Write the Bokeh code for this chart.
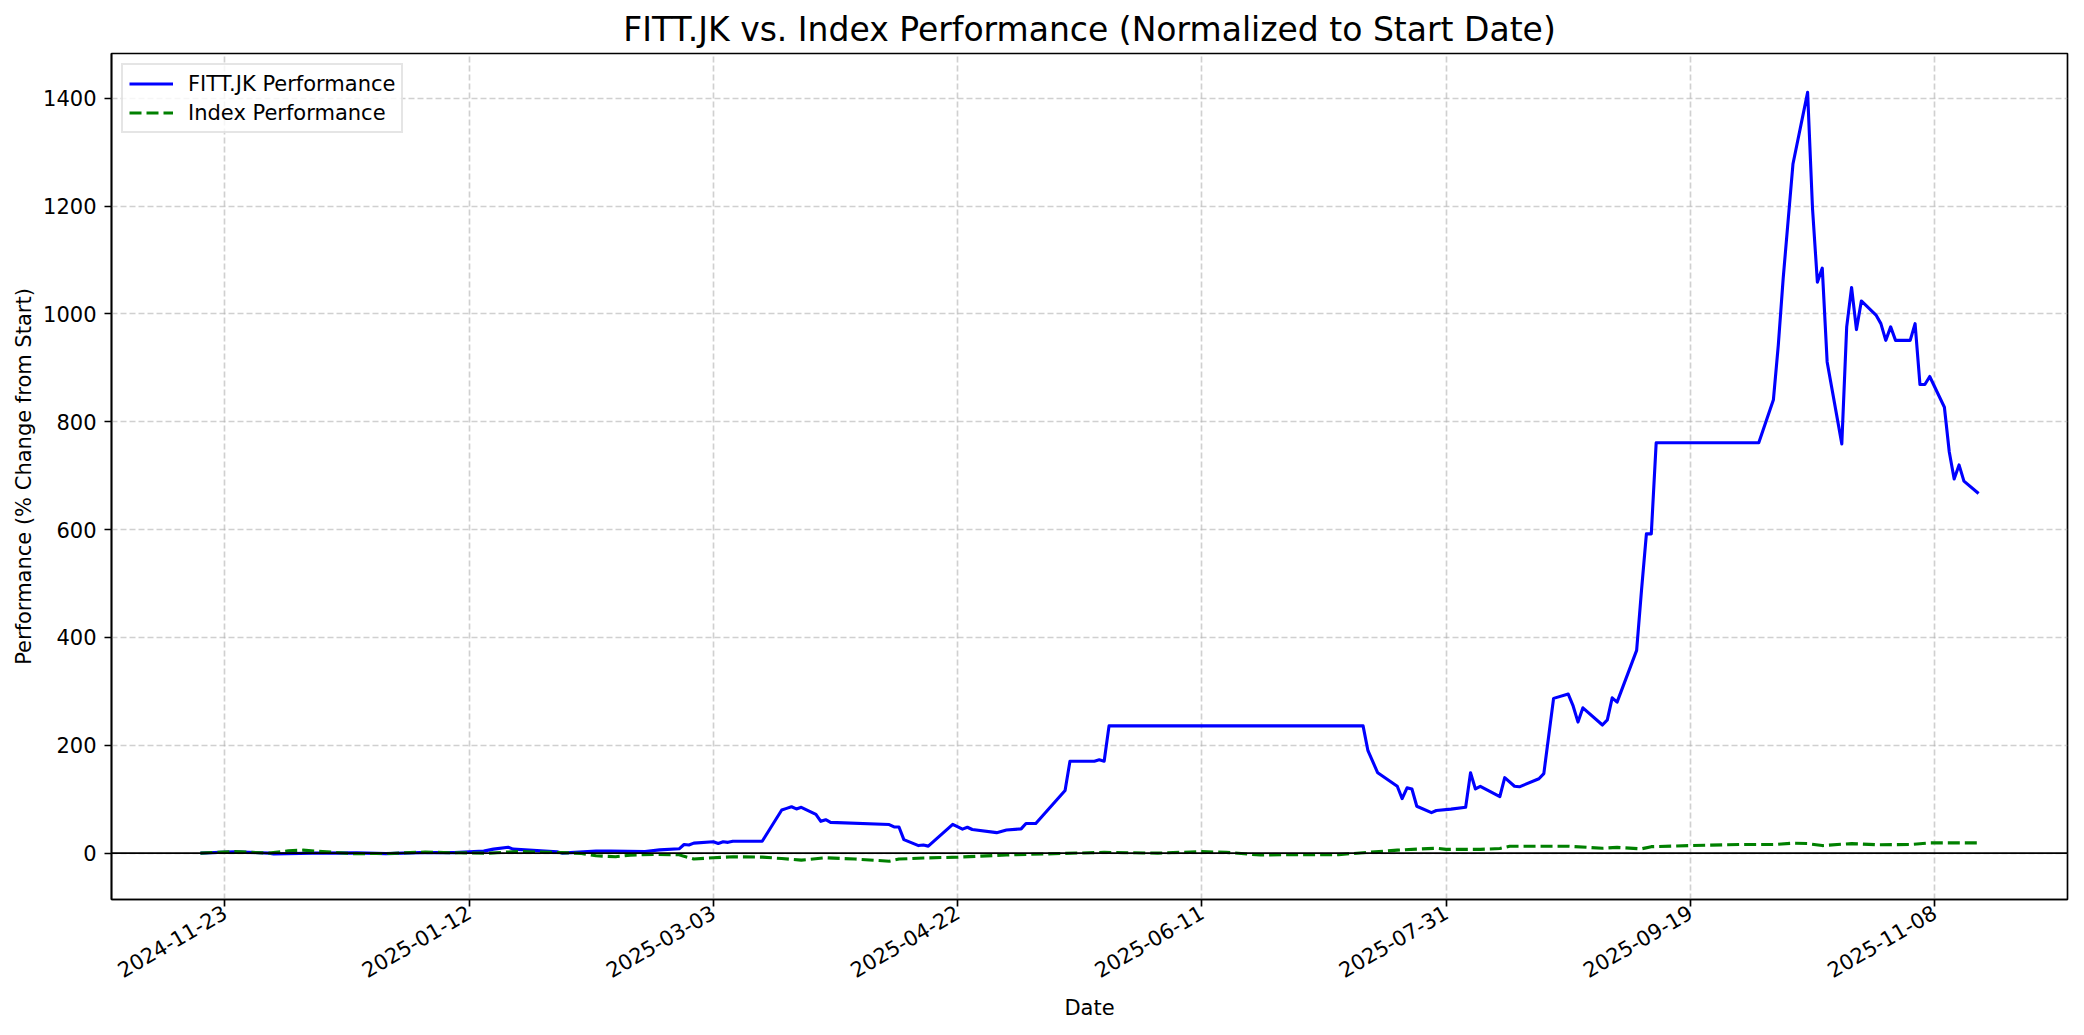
import math
import pandas as pd
from bokeh.plotting import figure
from bokeh.models import FixedTicker, DatetimeTickFormatter, Span, Range1d, ColumnDataSource
from bokeh.embed import file_html
from bokeh.resources import INLINE

# ---------------- data ----------------
fitt_dates = [
    "2024-11-18", "2024-11-25", "2024-12-02", "2024-12-03", "2024-12-11", "2024-12-20", "2024-12-26",
    "2025-01-02", "2025-01-09", "2025-01-13", "2025-01-15", "2025-01-17", "2025-01-20", "2025-01-21",
    "2025-01-30", "2025-01-31", "2025-02-07", "2025-02-10", "2025-02-17", "2025-02-20", "2025-02-24",
    "2025-02-25", "2025-02-26", "2025-02-27", "2025-03-03", "2025-03-04", "2025-03-05", "2025-03-06",
    "2025-03-07", "2025-03-13", "2025-03-17", "2025-03-18", "2025-03-19", "2025-03-20", "2025-03-21",
    "2025-03-24", "2025-03-25", "2025-03-26", "2025-03-27", "2025-04-08", "2025-04-09", "2025-04-10",
    "2025-04-11", "2025-04-14", "2025-04-15", "2025-04-16", "2025-04-21", "2025-04-23", "2025-04-24",
    "2025-04-25", "2025-04-30", "2025-05-02", "2025-05-05", "2025-05-06", "2025-05-08", "2025-05-14",
    "2025-05-15", "2025-05-20", "2025-05-21", "2025-05-22", "2025-05-23", "2025-07-14", "2025-07-15",
    "2025-07-17", "2025-07-21", "2025-07-22", "2025-07-23", "2025-07-24", "2025-07-25", "2025-07-28",
    "2025-07-29", "2025-08-01", "2025-08-04", "2025-08-05", "2025-08-06", "2025-08-07", "2025-08-11",
    "2025-08-12", "2025-08-14", "2025-08-15", "2025-08-19", "2025-08-20", "2025-08-22", "2025-08-25",
    "2025-08-26", "2025-08-27", "2025-08-28", "2025-09-01", "2025-09-02", "2025-09-03", "2025-09-04",
    "2025-09-08", "2025-09-09", "2025-09-10", "2025-09-11", "2025-09-12", "2025-10-03", "2025-10-06",
    "2025-10-07", "2025-10-08", "2025-10-10", "2025-10-13", "2025-10-14", "2025-10-15", "2025-10-16",
    "2025-10-17", "2025-10-20", "2025-10-21", "2025-10-22", "2025-10-23", "2025-10-24", "2025-10-27",
    "2025-10-28", "2025-10-29", "2025-10-30", "2025-10-31", "2025-11-03", "2025-11-04", "2025-11-05",
    "2025-11-06", "2025-11-07", "2025-11-10", "2025-11-11", "2025-11-12", "2025-11-13", "2025-11-14",
    "2025-11-17",
]
fitt_values = [
    0, 2.5, 0, -1.5, 0, 0.5, -1, 1, 1, 3,
    3.7, 7.4, 11, 7.4, 2.5, 0, 3.7, 3.7, 3, 6,
    8, 16, 15, 18.5, 21, 18, 21, 20, 22, 22,
    80, 83, 86, 82, 85, 72, 59, 62, 57, 53,
    48.5, 48.5, 25, 14, 15, 13, 53.5, 44.5, 48, 43.8,
    38, 43, 45, 55, 55, 116, 170.5, 170.5, 173, 170.5,
    236, 236, 190, 149, 124, 101, 121, 119, 87, 75,
    79, 81.6, 85, 149, 119, 124, 105, 140, 124, 123,
    138, 147.5, 287, 295, 273, 243, 269.5, 237.6, 247, 288,
    280, 376, 488, 592, 592, 761, 761, 841, 942, 1066,
    1278, 1411, 1196, 1059, 1085, 911, 759, 976, 1049, 971,
    1024, 998, 982, 951, 976, 951, 951, 982, 869, 869,
    884, 827, 744, 694, 720, 690, 667,
]

index_dates = [
    "2024-11-18", "2024-11-25", "2024-12-02", "2024-12-06", "2024-12-09", "2024-12-13", "2024-12-19",
    "2024-12-27", "2025-01-03", "2025-01-09", "2025-01-16", "2025-01-22", "2025-01-31", "2025-02-04",
    "2025-02-07", "2025-02-11", "2025-02-14", "2025-02-19", "2025-02-24", "2025-02-25", "2025-02-27",
    "2025-03-03", "2025-03-07", "2025-03-13", "2025-03-17", "2025-03-21", "2025-03-26", "2025-04-01",
    "2025-04-08", "2025-04-10", "2025-04-15", "2025-04-22", "2025-05-02", "2025-05-13", "2025-05-22",
    "2025-06-02", "2025-06-11", "2025-06-16", "2025-06-23", "2025-07-02", "2025-07-09", "2025-07-15",
    "2025-07-21", "2025-07-25", "2025-07-29", "2025-07-31", "2025-08-07", "2025-08-11", "2025-08-13",
    "2025-08-25", "2025-09-01", "2025-09-04", "2025-09-09", "2025-09-11", "2025-09-19", "2025-09-29",
    "2025-10-06", "2025-10-10", "2025-10-13", "2025-10-16", "2025-10-22", "2025-10-27", "2025-11-03",
    "2025-11-07", "2025-11-17",
]
index_values = [
    0, 3, 0, 4.3, 5.5, 3, -1, -0.6, 2, 0.6,
    0, 3, 1, -0.6, -5, -6.8, -3.7, -2.5, -3, -6,
    -11, -8.6, -6.8, -7.4, -10, -13, -8.6, -11, -15, -11,
    -9, -7.5, -3.4, -0.7, 1.4, 0, 2.7, 1.4, -3.4, -2.7,
    -2.7, 1.4, 5.5, 7.5, 9, 7, 7, 8.5, 12.8, 12.8,
    9, 10.6, 8, 12, 14, 16, 16, 18.4, 17.7, 14,
    17.7, 15.6, 16, 19, 19,
]

x_tick_labels = ["2024-11-23", "2025-01-12", "2025-03-03", "2025-04-22",
                 "2025-06-11", "2025-07-31", "2025-09-19", "2025-11-08"]
y_ticks = [0, 200, 400, 600, 800, 1000, 1200, 1400]

title_text = "FITT.JK vs. Index Performance (Normalized to Start Date)"
x_label = "Date"
y_label = "Performance (% Change from Start)"
fitt_label = "FITT.JK Performance"
index_label = "Index Performance"

# ---------------- figure ----------------
FONT = "DejaVu Sans"

fitt_src = ColumnDataSource(dict(x=pd.to_datetime(fitt_dates), y=fitt_values))
idx_src = ColumnDataSource(dict(x=pd.to_datetime(index_dates), y=index_values))

p = figure(
    width=2076, height=1027,
    x_axis_type="datetime",
    output_backend="svg", toolbar_location=None,
    x_range=Range1d(pd.Timestamp("2024-10-30 19:12"), pd.Timestamp("2025-12-05 04:48")),
    y_range=Range1d(-86, 1483),
    min_border_left=111, min_border_right=9, min_border_top=53, min_border_bottom=128,
)
p.background_fill_color = "white"
p.border_fill_color = "white"
p.outline_line_color = "black"
p.outline_line_width = 1.67

p.title.text = title_text
p.title.text_font = FONT
p.title.text_font_size = "33px"
p.title.text_font_style = "normal"
p.title.align = "center"
p.title.text_color = "black"

tick_ms = [int(v) for v in (pd.to_datetime(x_tick_labels).astype("int64") // 10**6)]
p.xaxis.ticker = FixedTicker(ticks=tick_ms)
fmt = "%Y-%m-%d"
p.xaxis.formatter = DatetimeTickFormatter(
    microseconds=fmt, milliseconds=fmt, seconds=fmt, minsec=fmt, minutes=fmt,
    hourmin=fmt, hours=fmt, days=fmt, months=fmt, years=fmt)
p.xaxis.major_label_orientation = math.pi / 6
p.yaxis.ticker = FixedTicker(ticks=y_ticks)

for ax in (p.xaxis[0], p.yaxis[0]):
    ax.axis_line_color = "black"
    ax.axis_line_width = 1.67
    ax.major_tick_line_color = "black"
    ax.major_tick_line_width = 1.67
    ax.major_tick_out = 7
    ax.major_tick_in = 0
    ax.minor_tick_out = 0
    ax.minor_tick_in = 0
    ax.major_label_text_font = FONT
    ax.major_label_text_font_size = "21px"
    ax.major_label_text_color = "black"
    ax.axis_label_text_font = FONT
    ax.axis_label_text_font_size = "21px"
    ax.axis_label_text_font_style = "normal"
    ax.axis_label_text_color = "black"

p.xaxis.major_label_standoff = 4
p.xaxis.axis_label_standoff = 8
p.yaxis.major_label_standoff = 8
p.yaxis.axis_label_standoff = 4

p.xaxis.axis_label = x_label
p.yaxis.axis_label = y_label

for g in (p.xgrid[0], p.ygrid[0]):
    g.grid_line_color = "#b0b0b0"
    g.grid_line_alpha = 0.6
    g.grid_line_width = 1.67
    g.grid_line_dash = "6 3"

p.add_layout(Span(location=0, dimension="width", line_color="black", line_width=1.67))

p.line("x", "y", source=fitt_src, line_color="#0000ff", line_width=3.1,
       line_join="round", legend_label=fitt_label)
p.line("x", "y", source=idx_src, line_color="#008000", line_width=3.1,
       line_dash="12 5", legend_label=index_label)

lg = p.legend[0]
lg.location = "top_left"
lg.margin = 10
lg.padding = 6
lg.spacing = 4
lg.glyph_width = 44
lg.glyph_height = 25
lg.label_height = 25
lg.label_standoff = 15
lg.label_text_font = FONT
lg.label_text_font_size = "21px"
lg.label_text_color = "black"
lg.border_line_color = "#cccccc"
lg.border_line_width = 2
lg.background_fill_alpha = 0.8

open("out.html", "w").write(file_html(p, INLINE))
